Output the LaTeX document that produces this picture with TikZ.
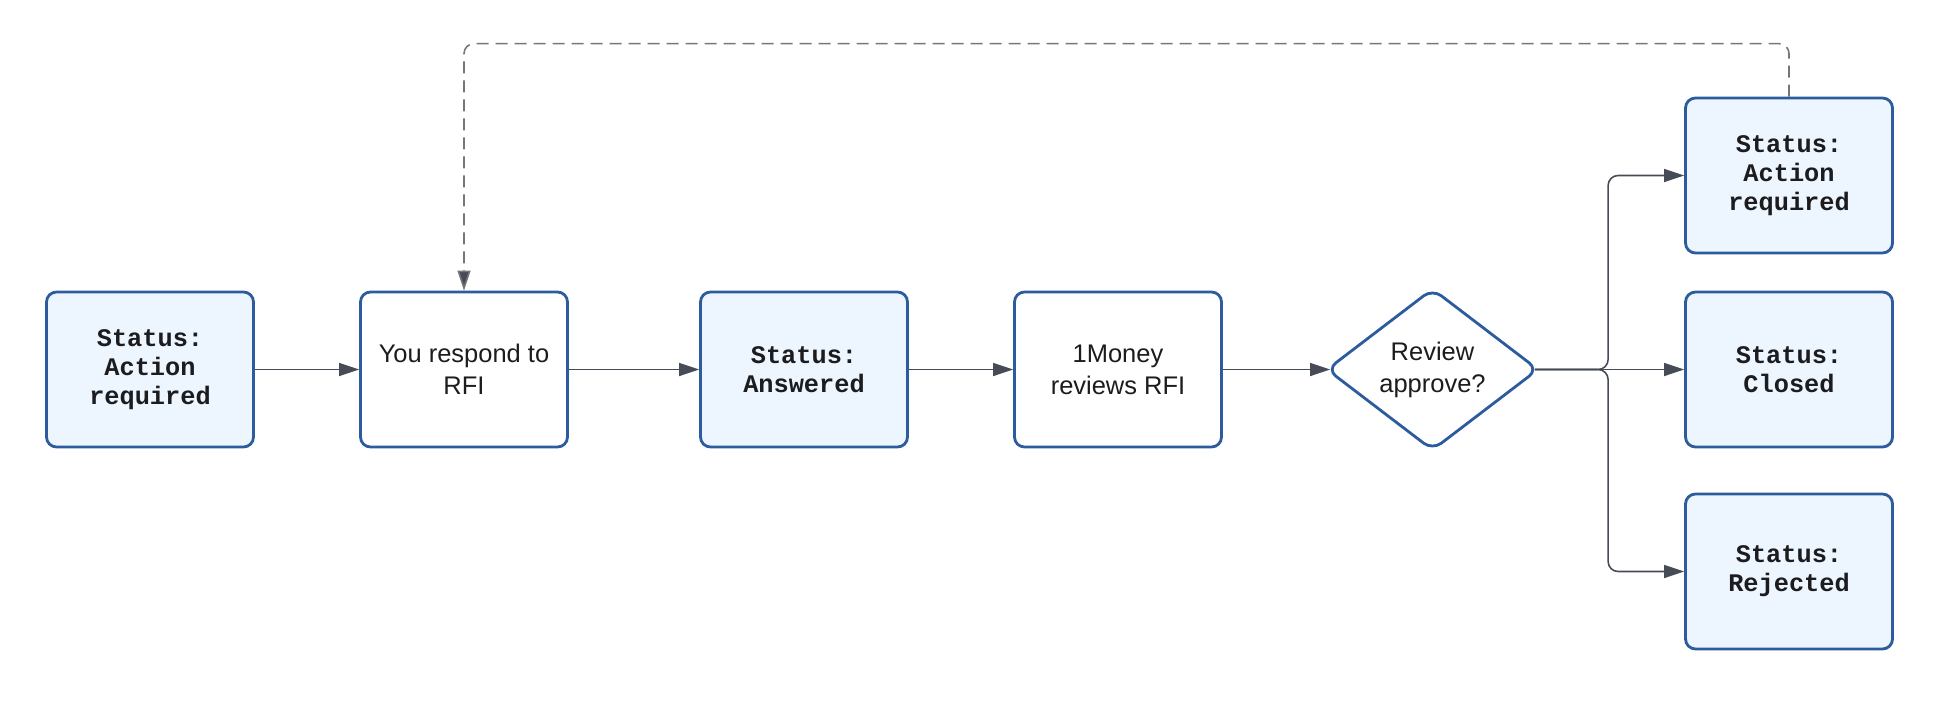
\documentclass[tikz,border=0pt]{standalone}
\usepackage{fontspec}
\setmainfont{Liberation Sans}
\setmonofont{Liberation Mono}
\usepackage{tikz}
\usetikzlibrary{shapes,shapes.geometric,arrows.meta,calc,positioning}

\definecolor{boxline}{RGB}{44,92,158}
\definecolor{boxfill}{RGB}{237,245,255}
\definecolor{linkgray}{RGB}{70,76,86}
\definecolor{dashgray}{RGB}{118,118,122}
\definecolor{inkblack}{RGB}{28,28,30}

\tikzset{
  stepbox/.style={draw=boxline, line width=1.6pt, rounded corners=0.2cm,
    minimum width=4.14cm, minimum height=3.1cm, inner sep=0pt,
    align=center, text=inkblack,
    font=\fontsize{14.5pt}{18.2pt}\selectfont},
  statusbox/.style={stepbox, fill=boxfill,
    font=\ttfamily\bfseries\fontsize{14.4pt}{16.6pt}\selectfont},
  choice/.style={diamond, draw=boxline, line width=1.6pt, rounded corners=0.22cm,
    minimum width=4.24cm, minimum height=3.18cm, inner sep=0pt,
    align=center, text=inkblack,
    font=\fontsize{14.5pt}{18.2pt}\selectfont},
  flow/.style={->, draw=linkgray, line width=0.9pt, rounded corners=0.2cm},
  back/.style={->, draw=dashgray, line width=0.9pt, dash pattern=on 0.24cm off 0.14cm,
    rounded corners=0.2cm}
}

\begin{document}
\begin{tikzpicture}[%
>={Triangle[length=0.4cm, width=0.26cm, fill=linkgray]},
node distance=6.28cm,
on grid,
auto
]
\useasboundingbox (0,0) rectangle (38.76,-14.52);

\node[statusbox] (actreq) at (3.0,-7.39) {Status:\\Action\\required};
\node[stepbox] (respond) [right=of actreq] {You respond to\\RFI};
\node[statusbox] (answered) [right=6.8cm of respond] {Status:\\Answered};
\node[stepbox] (reviews) [right=of answered] {1Money\\reviews RFI};
\node[choice] (decide) [right=6.29cm of reviews] {Review\\approve?};
\node[statusbox] (closed) [right=7.13cm of decide] {Status:\\Closed};
\node[statusbox] (actagain) [above=3.88cm of closed] {Status:\\Action\\required};
\node[statusbox] (rejected) [below=4.04cm of closed] {Status:\\Rejected};

\coordinate (fork) at ([xshift=-1.52cm] closed.west);
\coordinate (loop) at ([yshift=1.06cm] actagain.north);
\coordinate (tip) at ([xshift=-0.1cm] decide.east);

% main line
\path[flow] (actreq) edge (respond);
\path[flow] (respond) edge (answered);
\path[flow] (answered) edge (reviews);
\path[flow] (reviews) edge [shorten >=-0.1cm] (decide);

% outcomes of the review
\draw[flow] (tip) -- (closed.west);
\draw[flow] (tip) -- (fork) |- (actagain.west);
\draw[flow] (tip) -- (fork) |- (rejected.west);

% dashed: back to the response
\draw[back] (actagain.north) -- (loop) -| (respond.north);

\end{tikzpicture}
\end{document}
